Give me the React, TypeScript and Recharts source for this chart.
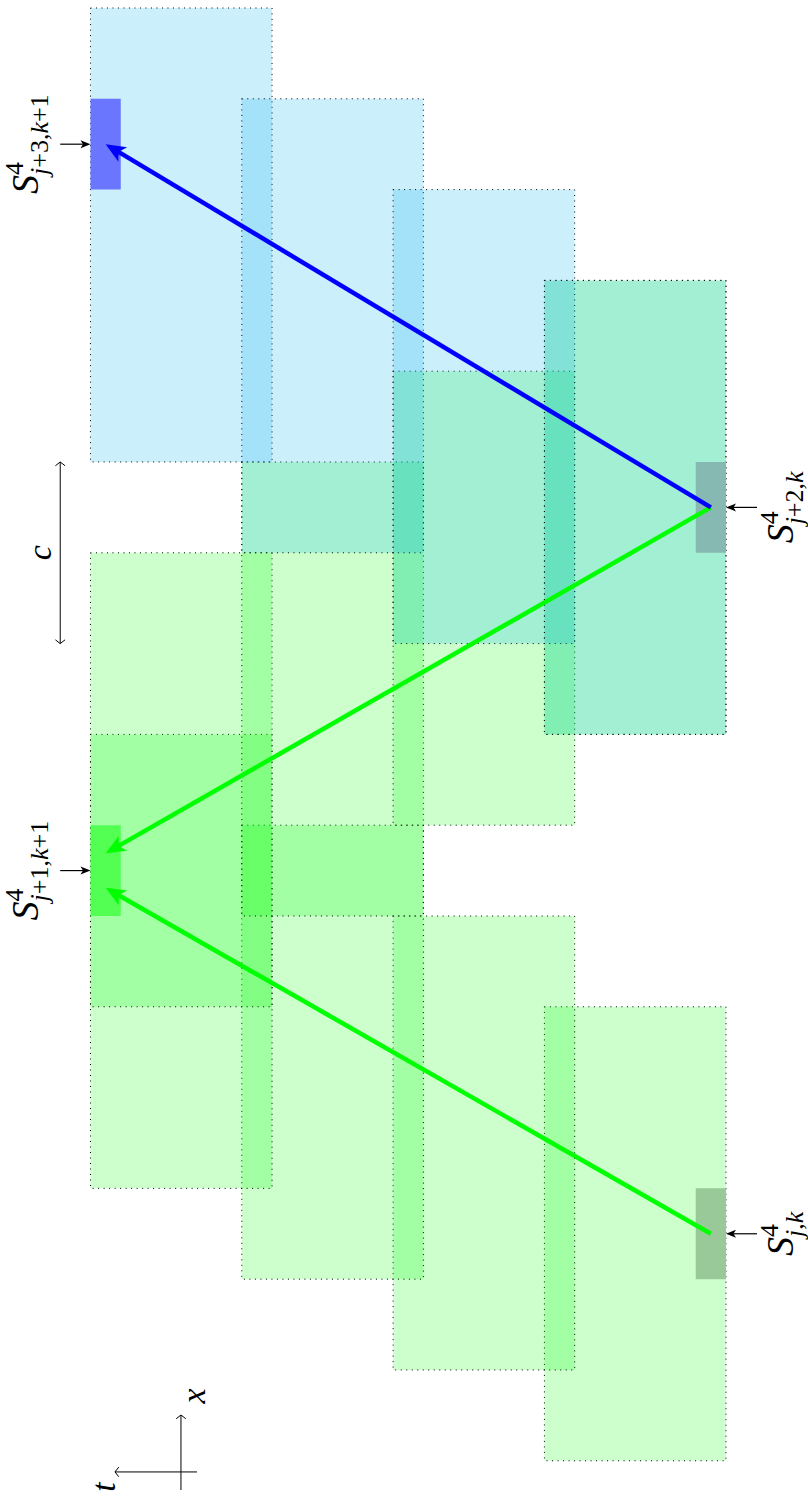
import React from "react";
import {
  ComposedChart,
  XAxis,
  YAxis,
  ReferenceArea,
  ReferenceLine,
  ReferenceDot,
} from "recharts";

// horizontal = stage (t grows to the left), vertical = x in cell units
const T_DOMAIN: [number, number] = [-0.542, 4.798];
const X_DOMAIN: [number, number] = [-0.388, 16.088];

const BOX_W = 1.2;
const CELL_W = 0.2;

// stencil boxes: [stage, xFrom, xTo]
const greenBoxes = [
  [0, 0, 5],
  [1, 1, 6],
  [2, 2, 7],
  [3, 3, 8],
  [3, 5, 10],
  [2, 6, 11],
  [1, 7, 12],
  [0, 8, 13],
];
const blueBoxes = [
  [3, 11, 16],
  [2, 10, 15],
  [1, 9, 14],
  [0, 8, 13],
];

// the four marked cells
const cellStage = [0, 0, 4, 4];
const cellX = [2, 10, 6, 14];
const cellFill = ["#99c999", "#86b9b1", "#52ff52", "#6a76fe"];
const cellSub = ["j,k", "j+2,k", "j+1,k+1", "j+3,k+1"];

// characteristic arrows
const arrowFrom = [
  [0.1, 2.5],
  [0.1, 10.5],
  [0.1, 10.5],
];
const arrowTo = [
  [4.1, 6.31],
  [4.1, 6.69],
  [4.1, 14.5],
];
const arrowColor = ["#00ff00", "#00ff00", "#0000ff"];

const FONT = "'Liberation Serif', 'DejaVu Serif', serif";

const arrowShape =
  (color: string, width: number, len: number, half: number, open = false, both = false) =>
  (p: any) => {
    const { x1, y1, x2, y2 } = p;
    const dx = x2 - x1;
    const dy = y2 - y1;
    const d = Math.hypot(dx, dy) || 1;
    const ux = dx / d;
    const uy = dy / d;
    const head = (tx: number, ty: number, sx: number, sy: number) => {
      const bx = tx - sx * len;
      const by = ty - sy * len;
      if (open) {
        return (
          <polyline
            points={`${bx - sy * half},${by + sx * half} ${tx},${ty} ${bx + sy * half},${by - sx * half}`}
            fill="none"
            stroke={color}
            strokeWidth={width}
            strokeLinecap="round"
            strokeLinejoin="round"
          />
        );
      }
      const nx = tx - sx * len * 0.75;
      const ny = ty - sy * len * 0.75;
      return (
        <polygon
          points={`${tx},${ty} ${bx - sy * half},${by + sx * half} ${nx},${ny} ${bx + sy * half},${by - sx * half}`}
          fill={color}
        />
      );
    };
    const cut = open ? 0 : len * 0.7;
    const sx2 = x2 - ux * cut;
    const sy2 = y2 - uy * cut;
    const sx1 = both ? x1 + ux * cut : x1;
    const sy1 = both ? y1 + uy * cut : y1;
    return (
      <g>
        <line x1={sx1} y1={sy1} x2={sx2} y2={sy2} stroke={color} strokeWidth={width} />
        {head(x2, y2, ux, uy)}
        {both && head(x1, y1, -ux, -uy)}
      </g>
    );
  };

const subParts = (s: string) =>
  s.split("").map((ch, i) => (
    <tspan key={i} fontStyle={/[a-z]/.test(ch) ? "italic" : "normal"}>
      {ch}
    </tspan>
  ));

const cellLabel = (sub: string) => (p: any) => (
  <text
    x={p.cx}
    y={p.cy}
    transform={`rotate(-90 ${p.cx} ${p.cy})`}
    textAnchor="middle"
    fontFamily={FONT}
    fill="#000"
  >
    <tspan fontSize={38} fontStyle="italic">
      S
    </tspan>
    <tspan fontSize={26} dy={-15}>
      4
    </tspan>
    <tspan fontSize={26} dx={-13} dy={25}>
      {subParts(sub)}
    </tspan>
  </text>
);

const mathLabel = (s: string) => (p: any) => (
  <text
    x={p.cx}
    y={p.cy}
    transform={`rotate(-90 ${p.cx} ${p.cy})`}
    textAnchor="middle"
    fontFamily={FONT}
    fontStyle="italic"
    fontSize={34}
    fill="#000"
  >
    {s}
  </text>
);

export default function App() {
  return (
    <div style={{ position: "absolute", left: 0, top: 0, background: "#fff" }}>
      <ComposedChart width={808} height={1496} margin={{ top: 0, right: 0, bottom: 0, left: 0 }}>
        <XAxis type="number" dataKey="t" domain={T_DOMAIN} allowDataOverflow reversed hide />
        <YAxis type="number" dataKey="x" domain={X_DOMAIN} allowDataOverflow hide />

        {greenBoxes.map(([s, a, b], i) => (
          <ReferenceArea
            key={`g${i}`}
            x1={s}
            x2={s + BOX_W}
            y1={a}
            y2={b}
            fill="#00ff00"
            fillOpacity={0.2}
            stroke="#000"
            strokeWidth={1}
            strokeDasharray="1 4.5"
            ifOverflow="visible"
          />
        ))}
        {blueBoxes.map(([s, a, b], i) => (
          <ReferenceArea
            key={`b${i}`}
            x1={s}
            x2={s + BOX_W}
            y1={a}
            y2={b}
            fill="#00aeef"
            fillOpacity={0.2}
            stroke="#000"
            strokeWidth={1}
            strokeDasharray="1 4.5"
            ifOverflow="visible"
          />
        ))}
        {cellX.map((x, i) => (
          <ReferenceArea
            key={`c${i}`}
            x1={cellStage[i]}
            x2={cellStage[i] + CELL_W}
            y1={x}
            y2={x + 1}
            fill={cellFill[i]}
            fillOpacity={1}
            stroke="none"
            ifOverflow="visible"
          />
        ))}

        {arrowFrom.map((f, i) => (
          <ReferenceLine
            key={`a${i}`}
            segment={[
              { x: f[0], y: f[1] },
              { x: arrowTo[i][0], y: arrowTo[i][1] },
            ]}
            ifOverflow="visible"
            shape={arrowShape(arrowColor[i], 4.5, 20, 8.5)}
          />
        ))}

        {/* pointers to the marked cells */}
        {cellX.map((x, i) => {
          const right = cellStage[i] === 0;
          return (
            <ReferenceLine
              key={`p${i}`}
              segment={[
                { x: right ? -0.205 : 4.4, y: x + 0.5 },
                { x: right ? 0 : 4.2, y: x + 0.5 },
              ]}
              ifOverflow="visible"
              shape={arrowShape("#000", 1.2, 10, 4)}
            />
          );
        })}
        {cellX.map((x, i) => (
          <ReferenceDot
            key={`l${i}`}
            x={cellStage[i] === 0 ? -0.44 : 4.55}
            y={x + 0.5}
            ifOverflow="visible"
            shape={cellLabel(cellSub[i])}
          />
        ))}

        {/* speed c */}
        <ReferenceLine
          segment={[
            { x: 4.4, y: 11 },
            { x: 4.4, y: 9 },
          ]}
          ifOverflow="visible"
          shape={arrowShape("#000", 1, 3.5, 4.5, true, true)}
        />
        <ReferenceDot x={4.46} y={10} ifOverflow="visible" shape={mathLabel("c")} />

        {/* t / x axes glyph */}
        <ReferenceLine
          segment={[
            { x: 3.602, y: -0.322 },
            { x: 3.602, y: 0.504 },
          ]}
          ifOverflow="visible"
          shape={arrowShape("#000", 1, 3.5, 4.5, true)}
        />
        <ReferenceLine
          segment={[
            { x: 3.496, y: -0.123 },
            { x: 4.038, y: -0.123 },
          ]}
          ifOverflow="visible"
          shape={arrowShape("#000", 1, 3.5, 4.5, true)}
        />
        <ReferenceDot x={3.443} y={0.714} ifOverflow="visible" shape={mathLabel("x")} />
        <ReferenceDot x={4.038} y={-0.289} ifOverflow="visible" shape={mathLabel("t")} />
      </ComposedChart>
    </div>
  );
}
